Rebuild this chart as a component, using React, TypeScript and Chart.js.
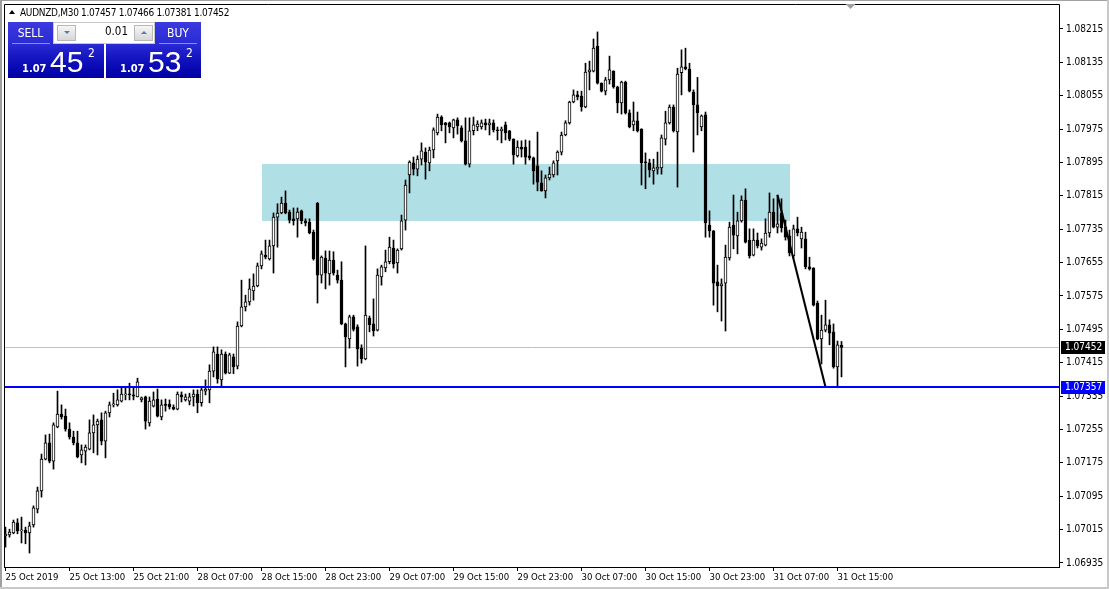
import React, { useEffect, useRef } from 'react';
import { Chart, registerables } from 'chart.js';

Chart.register(...registerables);

const symbolTitle = 'AUDNZD,M30';
const headerOHLC = ['1.07457', '1.07466', '1.07381', '1.07452'];

const opens = [
  1.07000, 1.07002, 1.07007, 1.07031, 1.07012, 1.07014, 1.07007, 1.07026, 1.07064, 1.07108,
  1.07184, 1.07223, 1.07179, 1.07261, 1.07292, 1.07287, 1.07256, 1.07237, 1.07223, 1.07194,
  1.07203, 1.07208, 1.07247, 1.07266, 1.07278, 1.07227, 1.07295, 1.07314, 1.07314, 1.07323,
  1.07338, 1.07339, 1.07338, 1.07333, 1.07326, 1.07333, 1.07271, 1.07311, 1.07328, 1.07285,
  1.07314, 1.07316, 1.07309, 1.07304, 1.07338, 1.07326, 1.07323, 1.07333, 1.07340, 1.07319,
  1.07347, 1.07350, 1.07395, 1.07436, 1.07374, 1.07436, 1.07390, 1.07429, 1.07407, 1.07503,
  1.07549, 1.07561, 1.07587, 1.07599, 1.07647, 1.07673, 1.07664, 1.07695, 1.07764, 1.07774,
  1.07798, 1.07776, 1.07760, 1.07760, 1.07779, 1.07755, 1.07752, 1.07728, 1.07798, 1.07625,
  1.07666, 1.07628, 1.07661, 1.07625, 1.07613, 1.07508, 1.07472, 1.07525, 1.07501, 1.07450,
  1.07424, 1.07522, 1.07508, 1.07493, 1.07621, 1.07642, 1.07657, 1.07690, 1.07654, 1.07688,
  1.07757, 1.07865, 1.07894, 1.07879, 1.07903, 1.07920, 1.07894, 1.07925, 1.07966, 1.08004,
  1.07990, 1.07990, 1.07978, 1.07997, 1.07978, 1.07947, 1.07891, 1.07971, 1.07980, 1.07980,
  1.07990, 1.07985, 1.07990, 1.07973, 1.07971, 1.07985, 1.07971, 1.07951, 1.07911, 1.07932,
  1.07932, 1.07911, 1.07906, 1.07887, 1.07846, 1.07827, 1.07858, 1.07865, 1.07899, 1.07920,
  1.07961, 1.07990, 1.08040, 1.08057, 1.08054, 1.08028, 1.08112, 1.08114, 1.08174, 1.08085,
  1.08066, 1.08093, 1.08114, 1.08076, 1.08038, 1.08088, 1.08014, 1.07985, 1.07995, 1.07975,
  1.07896, 1.07894, 1.07875, 1.07879, 1.07882, 1.07951, 1.07990, 1.08028, 1.07968, 1.08110,
  1.08124, 1.08119, 1.08064, 1.08033, 1.07980, 1.08009, 1.07745, 1.07731, 1.07609, 1.07599,
  1.07606, 1.07666, 1.07745, 1.07719, 1.07755, 1.07805, 1.07709, 1.07673, 1.07709, 1.07692,
  1.07697, 1.07726, 1.07776, 1.07740, 1.07774, 1.07740, 1.07719, 1.07671, 1.07736, 1.07712,
  1.07712, 1.07645, 1.07642, 1.07558, 1.07472, 1.07493, 1.07506, 1.07489, 1.07405, 1.07457,
];

const highs = [
  1.07021, 1.07016, 1.07038, 1.07041, 1.07045, 1.07021, 1.07033, 1.07072, 1.07117, 1.07196,
  1.07242, 1.07244, 1.07271, 1.07347, 1.07314, 1.07304, 1.07271, 1.07251, 1.07251, 1.07218,
  1.07218, 1.07278, 1.07290, 1.07280, 1.07295, 1.07299, 1.07321, 1.07342, 1.07350, 1.07357,
  1.07357, 1.07366, 1.07357, 1.07378, 1.07333, 1.07335, 1.07333, 1.07345, 1.07352, 1.07326,
  1.07328, 1.07326, 1.07314, 1.07345, 1.07345, 1.07340, 1.07342, 1.07350, 1.07350, 1.07357,
  1.07374, 1.07410, 1.07453, 1.07453, 1.07446, 1.07441, 1.07438, 1.07436, 1.07513, 1.07613,
  1.07577, 1.07616, 1.07628, 1.07654, 1.07683, 1.07709, 1.07709, 1.07774, 1.07796, 1.07812,
  1.07827, 1.07781, 1.07786, 1.07786, 1.07781, 1.07760, 1.07760, 1.07733, 1.07799, 1.07671,
  1.07683, 1.07683, 1.07681, 1.07637, 1.07657, 1.07510, 1.07529, 1.07529, 1.07506, 1.07458,
  1.07695, 1.07527, 1.07568, 1.07640, 1.07649, 1.07685, 1.07716, 1.07709, 1.07688, 1.07769,
  1.07853, 1.07899, 1.07908, 1.07911, 1.07942, 1.07930, 1.07932, 1.07978, 1.08011, 1.08007,
  1.07991, 1.07992, 1.07999, 1.08002, 1.07983, 1.08002, 1.08002, 1.08004, 1.07995, 1.07997,
  1.07999, 1.07999, 1.07997, 1.07980, 1.07980, 1.07992, 1.07972, 1.07952, 1.07947, 1.07947,
  1.07949, 1.07947, 1.07908, 1.07968, 1.07875, 1.07865, 1.07884, 1.07899, 1.07923, 1.07968,
  1.07995, 1.08042, 1.08069, 1.08066, 1.08066, 1.08133, 1.08138, 1.08191, 1.08208, 1.08086,
  1.08099, 1.08150, 1.08115, 1.08078, 1.08090, 1.08090, 1.08021, 1.08040, 1.08016, 1.07976,
  1.07918, 1.07903, 1.07903, 1.07920, 1.07961, 1.08018, 1.08033, 1.08033, 1.08121, 1.08165,
  1.08169, 1.08133, 1.08069, 1.08099, 1.08009, 1.08016, 1.07779, 1.07732, 1.07649, 1.07616,
  1.07697, 1.07752, 1.07817, 1.07776, 1.07815, 1.07832, 1.07736, 1.07736, 1.07726, 1.07712,
  1.07760, 1.07822, 1.07808, 1.07817, 1.07808, 1.07757, 1.07733, 1.07745, 1.07764, 1.07740,
  1.07728, 1.07668, 1.07643, 1.07563, 1.07529, 1.07565, 1.07518, 1.07508, 1.07467, 1.07466,
];

const lows = [
  1.06973, 1.06997, 1.07005, 1.07005, 1.06983, 1.06981, 1.06959, 1.07021, 1.07055, 1.07093,
  1.07182, 1.07175, 1.07160, 1.07259, 1.07280, 1.07251, 1.07232, 1.07218, 1.07187, 1.07175,
  1.07170, 1.07206, 1.07199, 1.07194, 1.07218, 1.07187, 1.07285, 1.07309, 1.07311, 1.07321,
  1.07326, 1.07326, 1.07326, 1.07333, 1.07321, 1.07256, 1.07263, 1.07309, 1.07285, 1.07278,
  1.07299, 1.07304, 1.07302, 1.07302, 1.07321, 1.07323, 1.07314, 1.07311, 1.07295, 1.07311,
  1.07338, 1.07319, 1.07381, 1.07366, 1.07357, 1.07388, 1.07389, 1.07389, 1.07400, 1.07501,
  1.07539, 1.07553, 1.07565, 1.07597, 1.07640, 1.07664, 1.07661, 1.07630, 1.07692, 1.07772,
  1.07772, 1.07750, 1.07745, 1.07716, 1.07748, 1.07743, 1.07724, 1.07661, 1.07558, 1.07606,
  1.07592, 1.07601, 1.07625, 1.07606, 1.07506, 1.07405, 1.07450, 1.07491, 1.07407, 1.07414,
  1.07422, 1.07489, 1.07479, 1.07491, 1.07601, 1.07633, 1.07652, 1.07642, 1.07630, 1.07685,
  1.07733, 1.07822, 1.07865, 1.07863, 1.07889, 1.07855, 1.07875, 1.07906, 1.07961, 1.07971,
  1.07942, 1.07966, 1.07954, 1.07963, 1.07944, 1.07889, 1.07884, 1.07961, 1.07971, 1.07975,
  1.07973, 1.07961, 1.07968, 1.07949, 1.07942, 1.07949, 1.07947, 1.07891, 1.07908, 1.07908,
  1.07891, 1.07901, 1.07843, 1.07827, 1.07826, 1.07810, 1.07853, 1.07860, 1.07865, 1.07913,
  1.07959, 1.07987, 1.08038, 1.08045, 1.08018, 1.08026, 1.08069, 1.08112, 1.08083, 1.08064,
  1.08057, 1.08083, 1.08073, 1.08014, 1.08011, 1.08011, 1.07978, 1.07971, 1.07968, 1.07841,
  1.07832, 1.07860, 1.07843, 1.07867, 1.07867, 1.07937, 1.07987, 1.07968, 1.07836, 1.08057,
  1.08117, 1.08064, 1.07920, 1.07961, 1.07971, 1.07716, 1.07716, 1.07553, 1.07537, 1.07515,
  1.07491, 1.07661, 1.07688, 1.07676, 1.07752, 1.07702, 1.07666, 1.07671, 1.07690, 1.07685,
  1.07695, 1.07716, 1.07738, 1.07726, 1.07728, 1.07709, 1.07671, 1.07666, 1.07719, 1.07690,
  1.07640, 1.07637, 1.07551, 1.07470, 1.07412, 1.07489, 1.07458, 1.07402, 1.07355, 1.07381,
];

const closes = [
  1.07004, 1.07009, 1.07033, 1.07012, 1.07013, 1.07007, 1.07024, 1.07067, 1.07108, 1.07184,
  1.07223, 1.07179, 1.07266, 1.07292, 1.07285, 1.07256, 1.07237, 1.07223, 1.07189, 1.07206,
  1.07213, 1.07247, 1.07266, 1.07275, 1.07227, 1.07295, 1.07314, 1.07315, 1.07326, 1.07340,
  1.07339, 1.07338, 1.07335, 1.07369, 1.07331, 1.07275, 1.07323, 1.07326, 1.07287, 1.07314,
  1.07313, 1.07309, 1.07304, 1.07340, 1.07333, 1.07333, 1.07333, 1.07340, 1.07319, 1.07350,
  1.07352, 1.07395, 1.07441, 1.07376, 1.07436, 1.07390, 1.07434, 1.07405, 1.07503, 1.07549,
  1.07561, 1.07592, 1.07599, 1.07647, 1.07676, 1.07668, 1.07695, 1.07764, 1.07774, 1.07798,
  1.07774, 1.07757, 1.07755, 1.07776, 1.07755, 1.07750, 1.07726, 1.07664, 1.07625, 1.07668,
  1.07630, 1.07661, 1.07630, 1.07613, 1.07508, 1.07477, 1.07525, 1.07495, 1.07448, 1.07424,
  1.07529, 1.07506, 1.07491, 1.07625, 1.07645, 1.07657, 1.07692, 1.07652, 1.07685, 1.07755,
  1.07841, 1.07896, 1.07879, 1.07903, 1.07923, 1.07896, 1.07925, 1.07973, 1.08004, 1.07985,
  1.07985, 1.07980, 1.07997, 1.07983, 1.07947, 1.07891, 1.07971, 1.07985, 1.07987, 1.07990,
  1.07985, 1.07990, 1.07973, 1.07971, 1.07975, 1.07966, 1.07951, 1.07913, 1.07932, 1.07927,
  1.07908, 1.07906, 1.07875, 1.07848, 1.07827, 1.07858, 1.07867, 1.07894, 1.07920, 1.07961,
  1.07990, 1.08040, 1.08057, 1.08052, 1.08028, 1.08112, 1.08117, 1.08169, 1.08085, 1.08066,
  1.08093, 1.08117, 1.08076, 1.08038, 1.08088, 1.08014, 1.07980, 1.07995, 1.07971, 1.07894,
  1.07894, 1.07877, 1.07882, 1.07884, 1.07954, 1.07990, 1.08028, 1.07971, 1.08107, 1.08124,
  1.08119, 1.08066, 1.08033, 1.08014, 1.08007, 1.07750, 1.07731, 1.07606, 1.07599, 1.07604,
  1.07668, 1.07740, 1.07721, 1.07755, 1.07805, 1.07704, 1.07671, 1.07709, 1.07695, 1.07702,
  1.07726, 1.07776, 1.07740, 1.07748, 1.07738, 1.07716, 1.07678, 1.07736, 1.07726, 1.07728,
  1.07645, 1.07640, 1.07553, 1.07472, 1.07493, 1.07506, 1.07486, 1.07405, 1.07458, 1.07452,
];

const xTickIndex = [0, 16, 32, 48, 64, 80, 96, 112, 128, 144, 160, 176, 192, 208];
const xTickLabels = [
  '25 Oct 2019', '25 Oct 13:00', '25 Oct 21:00', '28 Oct 07:00', '28 Oct 15:00',
  '28 Oct 23:00', '29 Oct 07:00', '29 Oct 15:00', '29 Oct 23:00', '30 Oct 07:00',
  '30 Oct 15:00', '30 Oct 23:00', '31 Oct 07:00', '31 Oct 15:00',
];
const yTicks = [
  1.06935, 1.07015, 1.07095, 1.07175, 1.07255, 1.07335, 1.07415, 1.07495, 1.07575,
  1.07655, 1.07735, 1.07815, 1.07895, 1.07975, 1.08055, 1.08135, 1.08215,
];

const bidPrice = 1.07452;
const levelPrice = 1.07357;
const zoneBars = [64, 196];
const zonePrices = [1.07755, 1.07891];
const trendBars = [193, 205];
const trendPrices = [1.07817, 1.07357];
const shiftBar = 211;

const sellQuote = ['1.07', '45', '2'];
const buyQuote = ['1.07', '53', '2'];
const lotSize = '0.01';

const UI_FONT = '"DejaVu Sans Condensed", "Liberation Sans", sans-serif';

const overlayPlugin = {
  id: 'mt4Overlay',
  beforeDatasetsDraw(chart: any) {
    const { ctx, chartArea: a } = chart;
    const x = chart.scales.x;
    const y = chart.scales.y;
    ctx.save();
    const x0 = x.getPixelForValue(zoneBars[0]);
    const x1 = x.getPixelForValue(zoneBars[1]);
    const y0 = y.getPixelForValue(zonePrices[1]);
    const y1 = y.getPixelForValue(zonePrices[0]);
    ctx.fillStyle = '#b0e0e6';
    ctx.fillRect(Math.round(x0), Math.round(y0), Math.round(x1 - x0), Math.round(y1 - y0));
    const yb = Math.round(y.getPixelForValue(bidPrice)) + 0.5;
    ctx.strokeStyle = '#c0c0c0';
    ctx.lineWidth = 1;
    ctx.beginPath();
    ctx.moveTo(a.left, yb);
    ctx.lineTo(a.right, yb);
    ctx.stroke();
    ctx.restore();
  },
  afterDatasetsDraw(chart: any) {
    const { ctx, chartArea: a } = chart;
    const y = chart.scales.y;
    ctx.save();
    const yl = Math.round(y.getPixelForValue(levelPrice));
    ctx.fillStyle = '#0000ff';
    ctx.fillRect(a.left, yl - 1, a.right - a.left, 2);
    ctx.restore();
  },
  afterDraw(chart: any) {
    const { ctx, chartArea: a, width, height } = chart;
    const x = chart.scales.x;
    const y = chart.scales.y;
    ctx.save();
    ctx.strokeStyle = '#000000';
    ctx.lineWidth = 1;
    ctx.beginPath();
    ctx.moveTo(a.left + 0.5, a.bottom + 0.5);
    ctx.lineTo(a.left + 0.5, a.top - 0.5);
    ctx.lineTo(a.right + 0.5, a.top - 0.5);
    ctx.lineTo(a.right + 0.5, a.bottom + 0.5);
    ctx.lineTo(a.left + 0.5, a.bottom + 0.5);
    ctx.stroke();
    ctx.font = '10px ' + UI_FONT;
    ctx.textBaseline = 'middle';
    ctx.textAlign = 'left';
    const tags: [number, string][] = [
      [bidPrice, '#000000'],
      [levelPrice, '#0000ff'],
    ];
    tags.forEach(([p, c]) => {
      const py = Math.round(y.getPixelForValue(p));
      ctx.fillStyle = c;
      ctx.fillRect(a.right + 2, py - 6, 44, 13);
      ctx.fillStyle = '#ffffff';
      ctx.fillText(p.toFixed(5), a.right + 6, py + 0.5);
    });
    const sx = Math.round(x.getPixelForValue(shiftBar)) + 0.5;
    ctx.fillStyle = '#a0a0a0';
    ctx.beginPath();
    ctx.moveTo(sx - 5, a.top - 1);
    ctx.lineTo(sx + 5, a.top - 1);
    ctx.lineTo(sx, a.top + 4);
    ctx.closePath();
    ctx.fill();
    ctx.fillStyle = '#a0a0a0';
    ctx.fillRect(0, 0, width, 1);
    ctx.fillRect(0, 0, 2, height);
    ctx.fillStyle = '#c8c8c8';
    ctx.fillRect(width - 2, 0, 2, height);
    ctx.fillRect(0, height - 2, width, 2);
    ctx.restore();
  },
};

export default function App() {
  const canvasRef = useRef<HTMLCanvasElement | null>(null);

  useEffect(() => {
    const canvas = canvasRef.current;
    if (!canvas) return;
    const wickData = highs.map((h, i) => ({ x: i, y: [lows[i], h] }));
    const bodyData = opens.map((o, i) => ({ x: i, y: [o, closes[i]] }));
    const bodyColors = opens.map((o, i) => (closes[i] >= o ? '#ffffff' : '#000000'));
    const trendData = trendBars.map((b, i) => ({ x: b, y: trendPrices[i] }));
    const yFont = { family: UI_FONT, size: 10 };
    const xFont = { family: UI_FONT, size: 9.5 };

    const chart = new Chart(canvas, {
      type: 'bar',
      data: {
        datasets: [
          {
            type: 'line',
            data: trendData,
            borderColor: '#000000',
            borderWidth: 2,
            pointRadius: 0,
            order: 0,
          } as any,
          {
            type: 'bar',
            data: bodyData,
            backgroundColor: bodyColors,
            borderColor: '#000000',
            borderWidth: 1,
            borderSkipped: false,
            barThickness: 3,
            minBarLength: 1,
            grouped: false,
            order: 1,
          } as any,
          {
            type: 'bar',
            data: wickData,
            backgroundColor: '#000000',
            borderWidth: 0,
            barThickness: 1,
            grouped: false,
            order: 2,
          } as any,
        ],
      },
      options: {
        animation: false,
        responsive: false,
        devicePixelRatio: 1,
        events: [],
        layout: { padding: { left: 4, top: 5, right: 0, bottom: 0 } },
        plugins: { legend: { display: false }, tooltip: { enabled: false } },
        scales: {
          x: {
            type: 'linear',
            min: -0.375,
            max: 263.375,
            offset: false,
            afterBuildTicks: (s: any) => {
              s.ticks = xTickIndex.map((v) => ({ value: v }));
            },
            afterFit: (s: any) => {
              s.height = 22;
              s.paddingLeft = 0;
              s.paddingRight = 0;
            },
            ticks: {
              autoSkip: false,
              maxRotation: 0,
              minRotation: 0,
              align: 'start',
              padding: 1,
              color: '#000000',
              font: xFont,
              callback: (_v: any, i: number) => xTickLabels[i] ?? '',
            },
            grid: {
              drawOnChartArea: false,
              drawTicks: true,
              tickLength: 4,
              tickColor: '#000000',
              color: '#000000',
              offset: false,
            },
            border: { display: true, color: '#000000' },
          },
          y: {
            type: 'linear',
            position: 'right',
            min: 1.069254,
            max: 1.082725,
            afterBuildTicks: (s: any) => {
              s.ticks = yTicks.map((v) => ({ value: v }));
            },
            afterFit: (s: any) => {
              s.width = 50;
              s.paddingTop = 0;
              s.paddingBottom = 0;
            },
            ticks: {
              padding: 3,
              color: '#000000',
              font: yFont,
              callback: (v: any) => Number(v).toFixed(5),
            },
            grid: {
              drawOnChartArea: false,
              drawTicks: true,
              tickLength: 4,
              tickColor: '#000000',
              color: '#000000',
            },
            border: { display: true, color: '#000000' },
          },
        },
      } as any,
      plugins: [overlayPlugin],
    });
    return () => chart.destroy();
  }, []);

  const white = '#ffffff';
  const abs = (l: number, t: number, extra: React.CSSProperties = {}): React.CSSProperties => ({
    position: 'absolute',
    left: l,
    top: t,
    ...extra,
  });
  const blockBg = 'linear-gradient(to bottom, #3a3ade 0%, #2a2ad4 40%, #1010bc 70%, #0000a4 100%)';

  return (
    <div style={{ position: 'fixed', left: 0, top: 0, width: 1109, height: 589, background: '#ffffff', overflow: 'hidden' }}>
      <canvas ref={canvasRef} width={1109} height={589} style={{ position: 'absolute', left: 0, top: 0, width: 1109, height: 589 }} />
      <div style={abs(9, 10, { width: 0, height: 0, borderLeft: '3px solid transparent', borderRight: '3px solid transparent', borderBottom: '4px solid #000' })} />
      <div style={abs(20, 7.8, { font: '10px ' + UI_FONT, lineHeight: '10px', color: '#000', whiteSpace: 'pre', letterSpacing: '-0.3px' })}>
        {symbolTitle + ' ' + headerOHLC.join(' ')}
      </div>
      <div style={abs(8, 22, { width: 96, height: 56, background: blockBg })} />
      <div style={abs(106, 22, { width: 95, height: 56, background: blockBg })} />
      <div style={abs(8, 26.8, { width: 45, textAlign: 'center', font: '12px ' + UI_FONT, lineHeight: '12px', color: white })}>SELL</div>
      <div style={abs(12, 43, { width: 38, height: 1, background: '#8c8ce8' })} />
      <div style={abs(155, 26.8, { width: 46, textAlign: 'center', font: '12px ' + UI_FONT, lineHeight: '12px', color: white })}>BUY</div>
      <div style={abs(159, 43, { width: 38, height: 1, background: '#8c8ce8' })} />
      <div style={abs(53, 22, { width: 102, height: 22, boxSizing: 'border-box', background: '#ffffff', border: '1px solid #c8c8c8' })} />
      <div style={abs(57, 25, { width: 19, height: 16, boxSizing: 'border-box', background: 'linear-gradient(#f6f6f6, #d6d6d6)', border: '1px solid #b8b8b8' })} />
      <div style={abs(64, 31, { width: 0, height: 0, borderLeft: '3px solid transparent', borderRight: '3px solid transparent', borderTop: '3px solid #5a78b0' })} />
      <div style={abs(134, 25, { width: 19, height: 16, boxSizing: 'border-box', background: 'linear-gradient(#f6f6f6, #d6d6d6)', border: '1px solid #b8b8b8' })} />
      <div style={abs(141, 31, { width: 0, height: 0, borderLeft: '3px solid transparent', borderRight: '3px solid transparent', borderBottom: '3px solid #5a78b0' })} />
      <div style={abs(76, 26.3, { width: 52, textAlign: 'right', font: '11.5px ' + UI_FONT, lineHeight: '11.5px', color: '#000' })}>{lotSize}</div>
      <div style={abs(22, 62.7, { font: 'bold 11px ' + UI_FONT, lineHeight: '11px', color: white })}>{sellQuote[0]}</div>
      <div style={abs(50, 46.6, { font: '30px "Liberation Sans", sans-serif', lineHeight: '30px', color: white })}>{sellQuote[1]}</div>
      <div style={abs(88, 46.6, { font: '12px ' + UI_FONT, lineHeight: '12px', color: white })}>{sellQuote[2]}</div>
      <div style={abs(120, 62.7, { font: 'bold 11px ' + UI_FONT, lineHeight: '11px', color: white })}>{buyQuote[0]}</div>
      <div style={abs(148, 46.6, { font: '30px "Liberation Sans", sans-serif', lineHeight: '30px', color: white })}>{buyQuote[1]}</div>
      <div style={abs(186, 46.6, { font: '12px ' + UI_FONT, lineHeight: '12px', color: white })}>{buyQuote[2]}</div>
    </div>
  );
}
